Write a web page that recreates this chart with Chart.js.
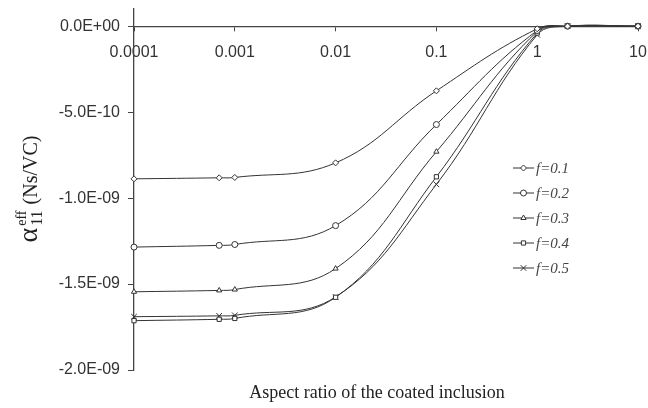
<!DOCTYPE html>
<html>
<head>
<meta charset="utf-8">
<script src="https://cdn.jsdelivr.net/npm/chart.js@4/dist/chart.umd.min.js"></script>
<style>
  html, body { margin: 0; padding: 0; background: #fff; }
  #wrap { width: 648px; height: 408px; }
</style>
</head>
<body>
<div id="wrap"><canvas id="chart" width="648" height="408"></canvas></div>
<script>
// aspect ratio values (x) shared by all series
const ratios = [0.0001, 0.0007, 0.001, 0.01, 0.1, 1, 2, 10];

const f01 = [-8.88e-10, -8.82e-10, -8.8e-10, -7.95e-10, -3.76e-10, -1.5e-11, 0, 0];
const f02 = [-1.285e-9, -1.275e-9, -1.27e-9, -1.16e-9, -5.72e-10, -2.5e-11, 0, 0];
const f03 = [-1.545e-9, -1.537e-9, -1.532e-9, -1.41e-9, -7.3e-10, -3e-11, 0, 0];
const f04 = [-1.713e-9, -1.705e-9, -1.70e-9, -1.577e-9, -8.76e-10, -4e-11, 0, 0];
const f05 = [-1.69e-9, -1.685e-9, -1.682e-9, -1.575e-9, -9.2e-10, -5e-11, 0, 0];

const seriesNames = ['f=0.1', 'f=0.2', 'f=0.3', 'f=0.4', 'f=0.5'];
const markers = ['rectRot', 'circle', 'triangle', 'rect', 'crossRot'];

const xTicks = [0.0001, 0.001, 0.01, 0.1, 1, 10];
const xTickLabels = ['0.0001', '0.001', '0.01', '0.1', '1', '10'];
const yTicks = [-2e-9, -1.5e-9, -1e-9, -5e-10, 0];
const yTickLabels = ['-2.0E-09', '-1.5E-09', '-1.0E-09', '-5.0E-10', '0.0E+00'];

const ink = '#333';

function makeSet(name, vals, marker) {
  return {
    label: name,
    data: ratios.map((x, i) => ({ x: x, y: vals[i] })),
    borderColor: ink,
    borderWidth: 1,
    pointStyle: marker,
    pointRadius: marker === 'crossRot' ? 4 : 3,
    pointBackgroundColor: '#fff',
    pointBorderColor: ink,
    pointBorderWidth: 1,
    tension: 0.4,
    clip: false
  };
}

const values = [f01, f02, f03, f04, f05];

// legend and axis titles drawn on top of the chart
const extras = {
  id: 'extras',
  afterDraw(chart) {
    const ctx = chart.ctx;
    ctx.save();

    // legend
    chart.data.datasets.forEach((ds, i) => {
      const y = 168 + 25 * i;
      ctx.strokeStyle = ink;
      ctx.lineWidth = 1;
      ctx.beginPath();
      ctx.moveTo(513, y);
      ctx.lineTo(534, y);
      ctx.stroke();
      ctx.fillStyle = '#fff';
      Chart.helpers.drawPoint(ctx, {
        pointStyle: ds.pointStyle,
        radius: ds.pointRadius,
        rotation: 0,
        borderWidth: 1
      }, 523.5, y);
      ctx.fillStyle = '#444';
      ctx.font = 'italic 15px "Liberation Serif"';
      ctx.textAlign = 'left';
      ctx.textBaseline = 'middle';
      ctx.fillText(ds.label, 536, y + 1);
    });

    // x title
    ctx.fillStyle = '#222';
    ctx.font = '18px "Liberation Serif"';
    ctx.textAlign = 'center';
    ctx.textBaseline = 'alphabetic';
    ctx.fillText('Aspect ratio of the coated inclusion', 377, 398);

    // y title with sub/superscript
    const parts = [
      { t: '\u03b1', f: '28px "Liberation Serif"' },
      { t: '11', f: '16px "Liberation Serif"', dy: 5 },
      { t: 'eff', f: '14px "Liberation Serif"', dy: -11 },
      { t: '(Ns/VC)', f: '20px "Liberation Serif"' }
    ];
    const widths = parts.map(p => { ctx.font = p.f; return ctx.measureText(p.t).width; });
    const gapA = 2, gapB = 6;
    // superscript sits over the subscript, so only the wider one counts
    const total = widths[0] + gapA + Math.max(widths[1], widths[2]) + gapB + widths[3];
    ctx.translate(37, 189);
    ctx.rotate(-Math.PI / 2);
    ctx.textAlign = 'left';
    let pos = -total / 2;
    ctx.font = parts[0].f; ctx.fillText(parts[0].t, pos, 0); pos += widths[0] + gapA;
    ctx.font = parts[1].f; ctx.fillText(parts[1].t, pos, parts[1].dy);
    ctx.font = parts[2].f; ctx.fillText(parts[2].t, pos, parts[2].dy);
    pos += Math.max(widths[1], widths[2]) + gapB;
    ctx.font = parts[3].f; ctx.fillText(parts[3].t, pos, 0);
    ctx.restore();
  }
};

new Chart(document.getElementById('chart'), {
  type: 'line',
  data: {
    datasets: seriesNames.map((n, i) => makeSet(n, values[i], markers[i]))
  },
  options: {
    responsive: false,
    animation: false,
    layout: { padding: { top: 9, right: 10, left: 0, bottom: 38 } },
    plugins: {
      legend: { display: false },
      tooltip: { enabled: false }
    },
    scales: {
      x: {
        type: 'logarithmic',
        min: 0.0001,
        max: 10,
        position: { y: 0 },
        afterBuildTicks: s => { s.ticks = xTicks.map(v => ({ value: v })); },
        afterFit: s => { s.height = 0; s.paddingLeft = 0; s.paddingRight = 0; },
        ticks: {
          autoSkip: false,
          maxRotation: 0,
          padding: 13,
          color: ink,
          font: { family: '"Liberation Sans"', size: 16 },
          callback: (v, i) => xTickLabels[i]
        },
        grid: { drawOnChartArea: false, tickLength: 4, color: '#444' },
        border: { color: '#444', width: 1.3 }
      },
      y: {
        type: 'linear',
        min: -2e-9,
        max: 1e-10,
        afterBuildTicks: s => { s.ticks = yTicks.map(v => ({ value: v })); },
        afterFit: s => { s.width = 134; s.paddingTop = 0; s.paddingBottom = 0; },
        ticks: {
          padding: 8,
          color: ink,
          font: { family: '"Liberation Sans"', size: 16 },
          callback: (v, i) => yTickLabels[i]
        },
        grid: { drawOnChartArea: false, tickLength: 6, color: '#444' },
        border: { color: '#444', width: 1.3 }
      }
    }
  },
  plugins: [extras]
});
</script>
</body>
</html>
